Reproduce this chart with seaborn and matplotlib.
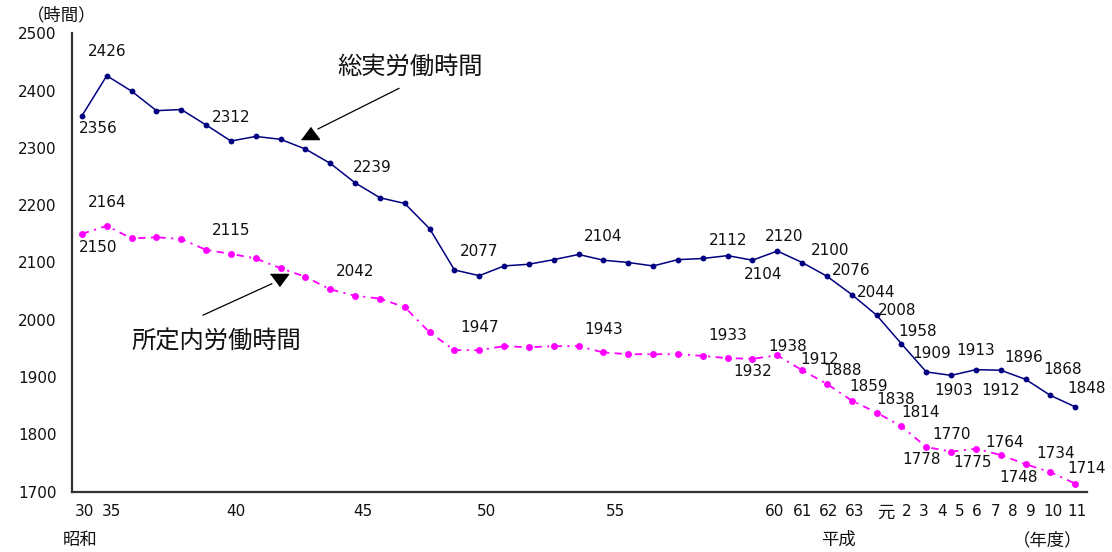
import numpy as np
import pandas as pd
import matplotlib
matplotlib.use("Agg")
import matplotlib.pyplot as plt
import seaborn as sns

# 年度: 昭和30, then 昭和35 to 平成11 every year
fiscal_years = [
    "S30", "S35", "S36", "S37", "S38", "S39", "S40", "S41", "S42", "S43",
    "S44", "S45", "S46", "S47", "S48", "S49", "S50", "S51", "S52", "S53",
    "S54", "S55", "S56", "S57", "S58", "S59", "S60", "S61", "S62", "S63",
    "H1", "H2", "H3", "H4", "H5", "H6", "H7", "H8", "H9", "H10", "H11",
]

# 総実労働時間 (hours per year)
total_hours = [
    2356, 2426, 2399, 2365, 2367, 2340, 2312, 2320, 2315, 2298,
    2273, 2239, 2213, 2203, 2159, 2087, 2077, 2094, 2097, 2105,
    2114, 2104, 2100, 2094, 2105, 2107, 2112, 2104, 2120, 2100,
    2076, 2044, 2008, 1958, 1909, 1903, 1913, 1912, 1896, 1868, 1848,
]

# 所定内労働時間 (hours per year)
scheduled_hours = [
    2150, 2164, 2142, 2144, 2141, 2122, 2115, 2107, 2090, 2075,
    2053, 2042, 2037, 2022, 1978, 1947, 1947, 1954, 1952, 1954,
    1954, 1943, 1940, 1940, 1940, 1937, 1933, 1932, 1938, 1912,
    1888, 1859, 1838, 1814, 1778, 1770, 1775, 1764, 1748, 1734, 1714,
]

# era labels along the category axis
tick_labels = ["30", "35", "40", "45", "50", "55",
               "60", "61", "62", "63", "元", "2", "3", "4", "5", "6",
               "7", "8", "9", "10", "11"]

# ---- layout -------------------------------------------------------------
tick_positions = [0.1, 1.2, 6.2, 11.3, 16.3, 21.5,
                  27.9, 29.0, 30.05, 31.1, 32.35, 33.2, 33.9, 34.65, 35.35, 36.05,
                  36.8, 37.5, 38.2, 39.1, 40.05]

# value labels: index -> (dx, dy) pixel offset, dy measured downward
total_label_offsets = {
    0: (16, 13), 1: (0, -24), 6: (0, -24), 11: (17, -15), 16: (0, -24),
    21: (0, -24), 26: (0, -15), 27: (11, 14), 28: (7, -15), 29: (28, -12),
    30: (24, -6), 31: (24, -2), 32: (20, -5), 33: (16, -12), 34: (5, -18),
    35: (3, 15), 36: (0, -19), 37: (0, 20), 38: (-2, -22), 39: (12, -26),
    40: (11, -18),
}
scheduled_label_offsets = {
    0: (16, 14), 1: (0, -23), 6: (0, -23), 11: (0, -24), 16: (0, -23),
    21: (0, -23), 26: (0, -23), 27: (0, 13), 28: (10, -9), 29: (17, -11),
    30: (16, -13), 31: (17, -14), 32: (19, -13), 33: (19, -14), 34: (-5, 12),
    35: (0, -17), 36: (-3, 14), 37: (4, -13), 38: (-7, 13), 39: (5, -19),
    40: (11, -15),
}

NAVY = "#000080"
MAGENTA = "#FF00FF"
AXIS_COLOR = "#333333"
TEXT_COLOR = "#111111"
NUM_SIZE = 11
JP_SIZE = 12.5
CALLOUT_SIZE = 17.5

sns.set_style("white")
plt.rcParams["font.family"] = ["DejaVu Sans", "Noto Sans CJK JP"]
JP_FONT = ["Noto Sans CJK JP", "DejaVu Sans"]

df = pd.DataFrame({
    "pos": np.arange(len(fiscal_years)),
    "year": fiscal_years,
    "total": total_hours,
    "scheduled": scheduled_hours,
})

W, H = 1112, 552
fig = plt.figure(figsize=(W / 100, H / 100), dpi=100)
ax = fig.add_axes([72 / W, 1 - 491.7 / H, (1087 - 72) / W, (491.7 - 33.3) / H])

sns.lineplot(data=df, x="pos", y="total", ax=ax, color=NAVY, linewidth=1.1,
             marker="o", markersize=4.2, markeredgewidth=0, markeredgecolor=NAVY)
sns.lineplot(data=df, x="pos", y="scheduled", ax=ax, color=MAGENTA, linewidth=1.3,
             marker="o", markersize=5, markeredgewidth=0, markeredgecolor=MAGENTA)
ax.lines[-1].set_linestyle((0, (4, 3, 1.2, 3)))

ax.set_xlim(-0.4, 40.47)
ax.set_ylim(1700, 2500)
ax.set_yticks(range(1700, 2501, 100))
ax.set_xticks(tick_positions)
ax.set_xticklabels(tick_labels)
ax.set_xlabel("")
ax.set_ylabel("")

for side in ("top", "right"):
    ax.spines[side].set_visible(False)
for side in ("left", "bottom"):
    ax.spines[side].set_color(AXIS_COLOR)
    ax.spines[side].set_linewidth(1.6)

ax.tick_params(axis="y", direction="in", length=5, width=1, color=AXIS_COLOR,
               pad=11, labelsize=NUM_SIZE, labelcolor=TEXT_COLOR)
ax.tick_params(axis="x", length=0, pad=9, labelsize=NUM_SIZE, labelcolor=TEXT_COLOR)
ax.grid(False)
for lbl in ax.get_xticklabels():
    if lbl.get_text() == "元":
        lbl.set_fontfamily(JP_FONT)
        lbl.set_fontsize(JP_SIZE)


def put_labels(values, offsets):
    for i, (dx, dy) in offsets.items():
        ax.annotate(str(values[i]), xy=(i, values[i]), xytext=(dx, -dy),
                    textcoords="offset pixels", ha="center", va="center",
                    fontsize=NUM_SIZE, color=TEXT_COLOR)


put_labels(total_hours, total_label_offsets)
put_labels(scheduled_hours, scheduled_label_offsets)

# callouts naming each series
up_tri = [(-1, -0.67), (1, -0.67), (0, 0.67)]
down_tri = [(-1, 0.67), (1, 0.67), (0, -0.67)]

ax.text(13.2, 2442, "総実労働時間", ha="center", va="center",
        fontsize=CALLOUT_SIZE, color=TEXT_COLOR, family=JP_FONT)
ax.annotate("", xy=(9.5, 2333), xytext=(12.77, 2404),
            arrowprops=dict(arrowstyle="-", lw=0.9, color="black", shrinkA=0, shrinkB=0))
ax.plot([9.2], [2326], marker=up_tri, markersize=13, color="black", linestyle="none")

ax.text(5.4, 1962, "所定内労働時間", ha="center", va="center",
        fontsize=CALLOUT_SIZE, color=TEXT_COLOR, family=JP_FONT)
ax.annotate("", xy=(7.65, 2063), xytext=(4.87, 2008),
            arrowprops=dict(arrowstyle="-", lw=0.9, color="black", shrinkA=0, shrinkB=0))
ax.plot([7.93], [2069], marker=down_tri, markersize=13, color="black", linestyle="none")

# unit and era captions
fig.text(62 / W, 1 - 15 / H, "（時間）", ha="center", va="center",
         fontsize=JP_SIZE, color=TEXT_COLOR, family=JP_FONT)
fig.text(80 / W, 1 - 540 / H, "昭和", ha="center", va="center",
         fontsize=JP_SIZE, color=TEXT_COLOR, family=JP_FONT)
fig.text(838 / W, 1 - 540 / H, "平成", ha="center", va="center",
         fontsize=JP_SIZE, color=TEXT_COLOR, family=JP_FONT)
fig.text(1048 / W, 1 - 540 / H, "（年度）", ha="center", va="center",
         fontsize=JP_SIZE, color=TEXT_COLOR, family=JP_FONT)

fig.savefig("out.png", dpi=100)
